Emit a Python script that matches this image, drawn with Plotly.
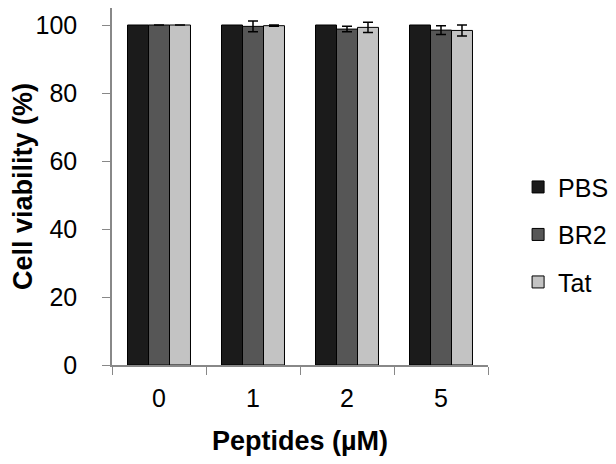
import plotly.graph_objects as go

categories = ["0", "1", "2", "5"]
pbs = [100, 100, 100, 100]
br2 = [100, 99.6, 98.8, 98.5]
br2_err = [0, 1.6, 0.8, 1.3]
tat = [100, 99.8, 99.3, 98.4]
tat_err = [0, 0.2, 1.5, 1.6]

series = [
    ("PBS", pbs, None, "#1b1b1b"),
    ("BR2", br2, br2_err, "#565656"),
    ("Tat", tat, tat_err, "#c3c3c3"),
]

fig = go.Figure()
for i, (name, vals, err, col) in enumerate(series):
    fig.add_trace(go.Bar(
        name=name, x=categories, y=vals, legendgroup=name,
        marker=dict(color=col, line=dict(color="black", width=1)),
        error_y=(dict(type="data", array=err, color="black", thickness=1.5, width=5,
                      visible=True) if err else None),
    ))

fig.update_layout(
    barmode="group", bargap=0.33, bargroupgap=0,
    width=616, height=464,
    margin=dict(l=104, r=136, t=0, b=107),
    plot_bgcolor="white", paper_bgcolor="white",
    font=dict(family="Arial, Liberation Sans, sans-serif", color="black"),
    showlegend=True,
    legend=dict(x=1.08, y=0.365, xanchor="left", yanchor="middle",
                font=dict(size=25), tracegroupgap=12, itemwidth=30,
                bgcolor="rgba(0,0,0,0)"),
    xaxis=dict(showline=True, linecolor="#888", linewidth=1.5,
               ticks="outside", tickson="boundaries", ticklen=8, tickcolor="#888",
               tickfont=dict(size=25), ticklabelstandoff=10,
               title=dict(text="<b>Peptides (µM)</b>", font=dict(size=27), standoff=20)),
    yaxis=dict(range=[0, 105], showline=True, linecolor="#888", linewidth=1.5,
               ticks="outside", ticklen=8, tickcolor="#888", tickvals=[0, 20, 40, 60, 80, 100],
               tickfont=dict(size=25), showgrid=False, zeroline=False, ticklabelstandoff=20,
               title=dict(text="<b>Cell viability (%)</b>", font=dict(size=27), standoff=2)),
)

fig.write_html("out.html")
